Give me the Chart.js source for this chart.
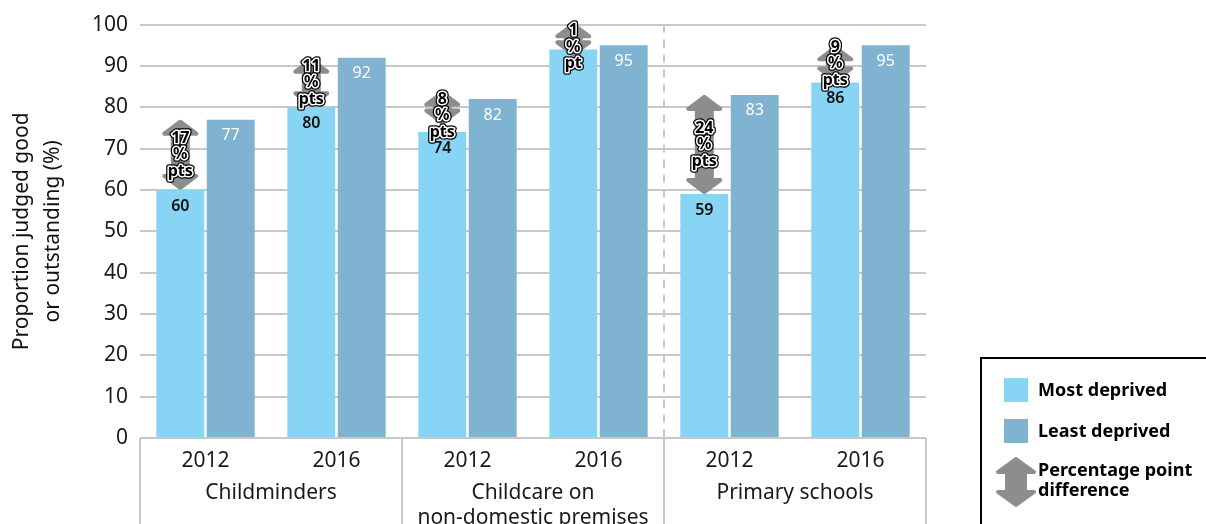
<!DOCTYPE html>
<html>
<head>
<meta charset="utf-8">
<script src="https://cdn.jsdelivr.net/npm/chart.js@4.4.1/dist/chart.umd.min.js"></script>
<style>
html,body{margin:0;padding:0;background:#fff;overflow:hidden}
#wrap{width:1206px;height:524px;position:relative}
</style>
</head>
<body>
<div id="wrap"><canvas id="chart"></canvas></div>
<script>
// data
var years = ['2012', '2016', '2012', '2016', '2012', '2016'];
var groups = [['Childminders'], ['Childcare on', 'non-domestic premises'], ['Primary schools']];
var mostDeprived = [60, 80, 74, 94, 59, 86];
var leastDeprived = [77, 92, 82, 95, 83, 95];
var gapLabels = [['17', '%', 'pts'], ['11', '%', 'pts'], ['8', '%', 'pts'], ['1', '%', 'pt'], ['24', '%', 'pts'], ['9', '%', 'pts']];
var yMin = 0, yMax = 100, yStep = 10;

var FONT = "'Noto Sans', sans-serif";
var LIGHT = '#87d4f5';
var DARK = '#7fb3d1';
var GREY = '#8d8d90';
var GRID = '#c8c8c8';

function drawArrow(ctx, x, top, bot, hw, sw, hh){
    ctx.beginPath();
    ctx.moveTo(x, top);
    ctx.lineTo(x + hw, top + hh);
    ctx.lineTo(x + sw, top + hh);
    ctx.lineTo(x + sw, bot - hh);
    ctx.lineTo(x + hw, bot - hh);
    ctx.lineTo(x, bot);
    ctx.lineTo(x - hw, bot - hh);
    ctx.lineTo(x - sw, bot - hh);
    ctx.lineTo(x - sw, top + hh);
    ctx.lineTo(x - hw, top + hh);
    ctx.closePath();
    ctx.fillStyle = GREY;
    ctx.strokeStyle = GREY;
    ctx.lineJoin = 'round';
    ctx.lineWidth = 4;
    ctx.fill();
    ctx.stroke();
}

function outlinedText(ctx, txt, x, y){
    ctx.lineJoin = 'round';
    ctx.strokeStyle = '#000';
    ctx.lineWidth = 5.5;
    ctx.strokeText(txt, x, y);
    ctx.strokeStyle = '#fff';
    ctx.lineWidth = 3;
    ctx.strokeText(txt, x, y);
    ctx.fillStyle = '#000';
    ctx.fillText(txt, x, y);
}

var decorPlugin = {
    id: 'decor',
    beforeDatasetsDraw: function(chart){
        var ctx = chart.ctx, xs = chart.scales.x, area = chart.chartArea;
        // dashed divider between early years and schools
        var half = (xs.getPixelForValue(1) - xs.getPixelForValue(0)) / 2;
        var dx = xs.getPixelForValue(4) - half;
        ctx.save();
        ctx.strokeStyle = GRID;
        ctx.lineWidth = 2;
        ctx.setLineDash([8, 7]);
        ctx.beginPath();
        ctx.moveTo(dx, area.top);
        ctx.lineTo(dx, area.bottom);
        ctx.stroke();
        ctx.restore();
    },
    afterDatasetsDraw: function(chart){
        var ctx = chart.ctx, ys = chart.scales.y;
        var m0 = chart.getDatasetMeta(0), m1 = chart.getDatasetMeta(1);
        ctx.save();
        ctx.textAlign = 'center';
        ctx.textBaseline = 'middle';
        // value labels inside the bars
        ctx.font = '600 16px ' + FONT;
        ctx.fillStyle = '#111';
        m0.data.forEach(function(b, i){ ctx.fillText(String(mostDeprived[i]), b.x, b.y + 16); });
        ctx.font = '16px ' + FONT;
        ctx.fillStyle = '#fff';
        m1.data.forEach(function(b, i){ ctx.fillText(String(leastDeprived[i]), b.x, b.y + 16); });
        // gap arrows
        m0.data.forEach(function(b, i){
            var top = ys.getPixelForValue(leastDeprived[i]);
            var bot = ys.getPixelForValue(mostDeprived[i]);
            var mid = (top + bot) / 2;
            var aTop = top + 2, aBot = bot - 2;
            if(aBot - aTop < 30){
                aTop = mid - 8 - 15;
                aBot = mid - 8 + 15;
            }
            drawArrow(ctx, b.x, aTop, aBot, 16, 7.5, 12);
            ctx.font = 'bold 16px ' + FONT;
            var lines = gapLabels[i];
            lines.forEach(function(t, k){
                outlinedText(ctx, t, b.x, mid + (k - 1) * 16.5);
            });
        });
        ctx.restore();
    },
    afterDraw: function(chart){
        var ctx = chart.ctx, xs = chart.scales.x, area = chart.chartArea;
        var H = chart.height;
        var half = (xs.getPixelForValue(1) - xs.getPixelForValue(0)) / 2;
        ctx.save();
        // group separators below the axis
        ctx.strokeStyle = GRID;
        ctx.lineWidth = 2;
        for(var g = 0; g <= groups.length; g++){
            var sx = xs.getPixelForValue(g * 2) - half;
            ctx.beginPath();
            ctx.moveTo(sx, area.bottom);
            ctx.lineTo(sx, H);
            ctx.stroke();
        }
        // group names
        ctx.font = '21px ' + FONT;
        ctx.fillStyle = '#1a1a1a';
        ctx.textAlign = 'center';
        ctx.textBaseline = 'middle';
        groups.forEach(function(lines, g){
            var cx = (xs.getPixelForValue(g * 2) + xs.getPixelForValue(g * 2 + 1)) / 2;
            lines.forEach(function(t, k){ ctx.fillText(t, cx, 493 + k * 25); });
        });
        // legend box
        ctx.strokeStyle = '#000';
        ctx.lineWidth = 2;
        ctx.strokeRect(981, 358, 240, 200);
        ctx.fillStyle = LIGHT;
        ctx.fillRect(1004, 378, 24, 24);
        ctx.fillStyle = DARK;
        ctx.fillRect(1004, 419, 24, 24);
        drawArrow(ctx, 1016, 459, 505, 18, 9, 13);
        ctx.fillStyle = '#000';
        ctx.textAlign = 'left';
        ctx.font = 'bold 18px ' + FONT;
        ctx.fillText('Most deprived', 1038, 391);
        ctx.fillText('Least deprived', 1038, 432);
        ctx.fillText('Percentage point', 1038, 471);
        ctx.fillText('difference', 1038, 491);
        ctx.restore();
    }
};

new Chart(document.getElementById('chart'), {
    type: 'bar',
    data: {
        labels: years,
        datasets: [
            {label: 'Most deprived', data: mostDeprived, backgroundColor: LIGHT, categoryPercentage: 0.77, barPercentage: 0.95},
            {label: 'Least deprived', data: leastDeprived, backgroundColor: DARK, categoryPercentage: 0.77, barPercentage: 0.95}
        ]
    },
    options: {
        responsive: true,
        maintainAspectRatio: false,
        animation: false,
        layout: {padding: {top: 24, right: 280, bottom: 0, left: 0}},
        plugins: {legend: {display: false}, tooltip: {enabled: false}},
        scales: {
            x: {
                grid: {display: false, drawTicks: false},
                border: {display: false},
                ticks: {color: '#1a1a1a', font: {family: FONT, size: 21}, padding: 10, maxRotation: 0},
                afterFit: function(s){ s.height = 86; }
            },
            y: {
                min: yMin, max: yMax,
                grid: {color: GRID, lineWidth: 2, drawTicks: false},
                border: {display: false},
                ticks: {stepSize: yStep, color: '#1a1a1a', font: {family: FONT, size: 21}, padding: 12},
                title: {
                    display: true,
                    text: ['Proportion judged good', 'or outstanding (%)'],
                    color: '#111',
                    font: {family: FONT, size: 21, lineHeight: 1.5},
                    padding: {top: 6, bottom: 0}
                },
                afterFit: function(s){ s.width = 140; }
            }
        }
    },
    plugins: [decorPlugin]
});
</script>
</body>
</html>
